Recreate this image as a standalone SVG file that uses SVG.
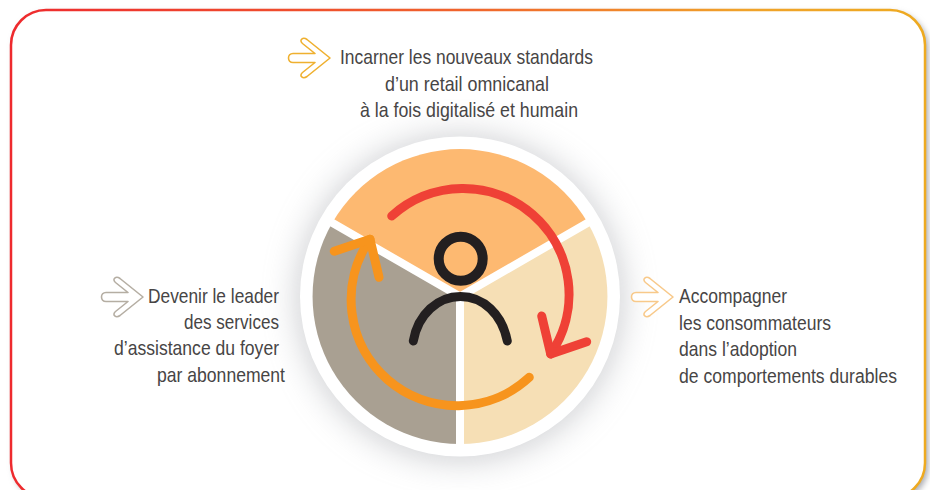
<svg xmlns="http://www.w3.org/2000/svg" width="930" height="490" viewBox="0 0 930 490">
<style>
.t{font-family:"Liberation Sans",Arial,sans-serif;font-size:21px;fill:#474545}
.arrow{fill:#fff;stroke-width:1.6;stroke-linejoin:round}
.line{fill:none;stroke-linecap:round;stroke-linejoin:round}
</style>
<defs>
<linearGradient id="b" gradientUnits="userSpaceOnUse" x1="11" y1="0" x2="925" y2="0">
<stop offset="0" stop-color="#ee2a2e"/><stop offset=".5" stop-color="#f0642c"/><stop offset=".8" stop-color="#f0a22a"/><stop offset="1" stop-color="#eeaa20"/>
</linearGradient>
<filter id="s" x="-50%" y="-50%" width="200%" height="200%"><feGaussianBlur stdDeviation="17"/></filter>
<filter id="f" x="-5%" y="-5%" width="110%" height="110%"><feGaussianBlur stdDeviation="3"/></filter>
<path id="ar" d="M4,-4.5H26L13.5,-14.5C9.5,-18,14,-21.5,18,-18.5L41,0L18,18.5C14,21.5,9.5,18,13.5,14.5L26,4.5H4C-2,4.5,-2,-4.5,4,-4.5Z"/>
</defs>
<rect width="930" height="490" fill="#fff"/>
<rect x="14" y="13" width="914" height="488" rx="35" fill="#a4a6ac" filter="url(#f)"/>
<rect id="frame" x="11" y="10" width="914" height="488" rx="35" fill="#fff" stroke="url(#b)" stroke-width="2.5"/>
<circle cx="460" cy="298" r="162" fill="#9a9ca3" opacity=".5" filter="url(#s)"/>
<g id="wheel">
<circle cx="460" cy="296.5" r="160" fill="#fff"/>
<path d="M460,296.5L332.3,222.8A147.5,147.5 0 0 1 587.7,222.8Z" fill="#fdb971"/>
<path d="M460,296.5L587.7,222.8A147.5,147.5 0 0 1 460,444Z" fill="#f6dfb5"/>
<path d="M460,296.5V444A147.5,147.5 0 0 1 332.3,222.8Z" fill="#a9a092"/>
<path d="M460,296.5V446M460,296.5L330,221.5M460,296.5L590,221.5" stroke="#fff" stroke-width="8" fill="none"/>
</g>
<g id="person" class="line" stroke="#231f20" stroke-width="9">
<circle cx="460.7" cy="258.7" r="22" stroke-width="10"/>
<path d="M413.3,341C418,314 438,296.5 460.5,296.5C483,296.5 502,314 507.3,341"/>
</g>
<g id="connectors" class="line" stroke-width="9">
<g stroke="#ef4136">
<path d="M391.7,216A106,106 0 0 1 550.7,354"/>
<path d="M541.7,316L550.7,354L586.7,341.7"/>
</g>
<g stroke="#f7941d">
<path d="M529.3,377.3A106,106 0 0 1 370,239.3"/>
<path d="M334.3,251.3L370,239.3L379,277.3"/>
</g>
</g>
<g id="top">
<use href="#ar" x="289" y="58" class="arrow" stroke="#efb02f"/>
<text class="t" x="340" y="64" textLength="253" lengthAdjust="spacingAndGlyphs">Incarner les nouveaux standards</text>
<text class="t" x="385" y="91" textLength="164" lengthAdjust="spacingAndGlyphs">d’un retail omnicanal</text>
<text class="t" x="360" y="117" textLength="218" lengthAdjust="spacingAndGlyphs">à la fois digitalisé et humain</text>
</g>
<g id="left">
<use href="#ar" x="102" y="297" class="arrow" stroke="#b5aea3"/>
<text class="t" x="148" y="303" textLength="131" lengthAdjust="spacingAndGlyphs">Devenir le leader</text>
<text class="t" x="184" y="329" textLength="95" lengthAdjust="spacingAndGlyphs">des services</text>
<text class="t" x="114" y="355" textLength="165" lengthAdjust="spacingAndGlyphs">d’assistance du foyer</text>
<text class="t" x="157" y="382" textLength="128" lengthAdjust="spacingAndGlyphs">par abonnement</text>
</g>
<g id="right">
<use href="#ar" x="632" y="297" class="arrow" stroke="#f8c98a"/>
<text class="t" x="679" y="303" textLength="108" lengthAdjust="spacingAndGlyphs">Accompagner</text>
<text class="t" x="679" y="330" textLength="152" lengthAdjust="spacingAndGlyphs">les consommateurs</text>
<text class="t" x="679" y="356" textLength="118" lengthAdjust="spacingAndGlyphs">dans l’adoption</text>
<text class="t" x="679" y="383" style="font-size:20px" textLength="218" lengthAdjust="spacingAndGlyphs">de comportements durables</text>
</g>
</svg>
